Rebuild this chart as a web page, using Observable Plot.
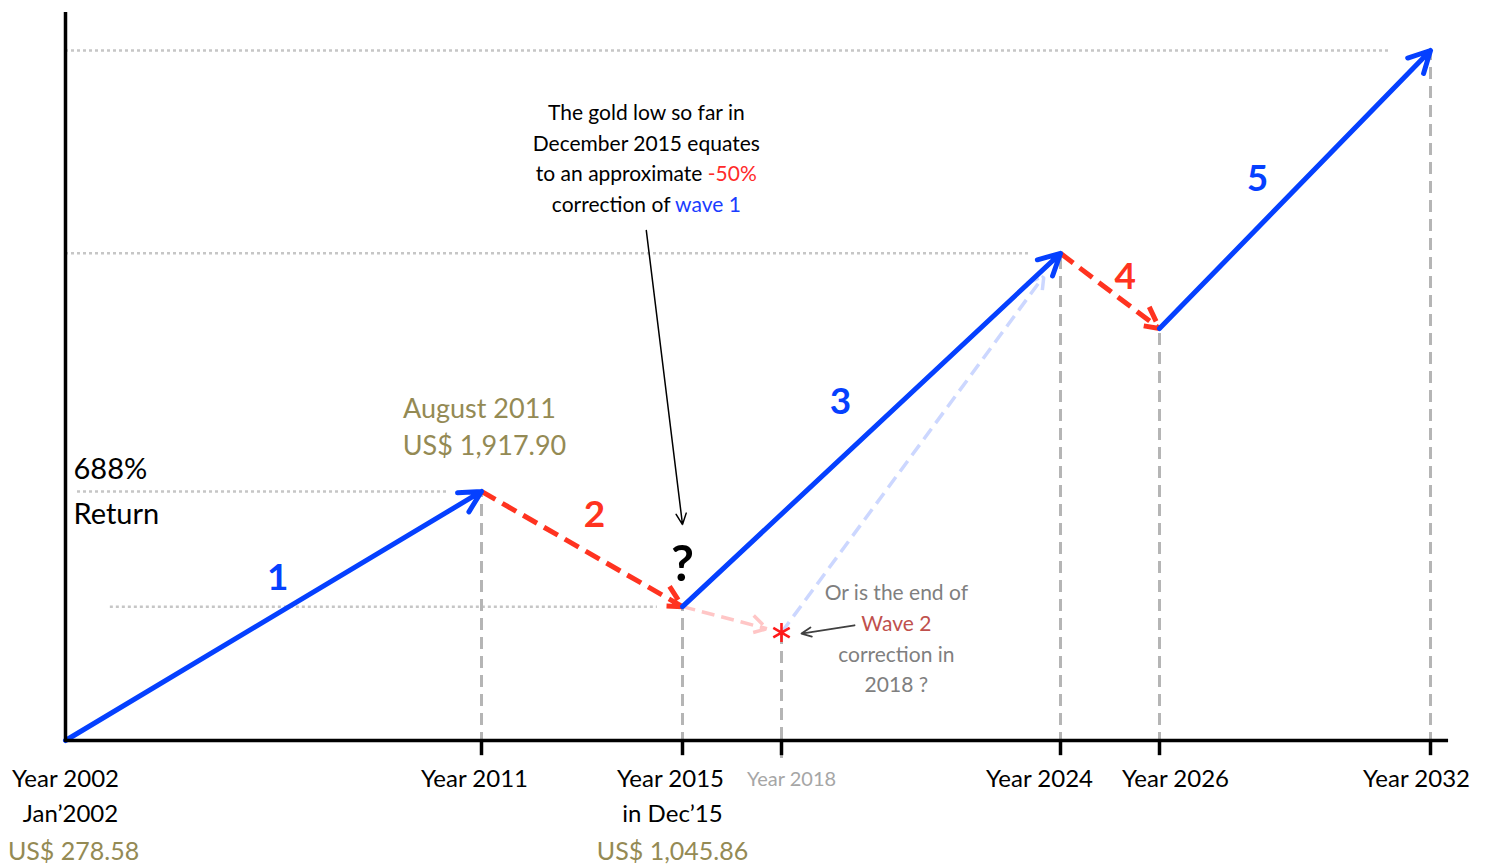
<!DOCTYPE html>
<html>
<head>
<meta charset="utf-8">
<script src="https://cdn.jsdelivr.net/npm/d3@7"></script>
<script src="https://cdn.jsdelivr.net/npm/@observablehq/plot@0.6"></script>
<style>
  html, body { margin: 0; padding: 0; background: #fff; }
  #chart svg text { white-space: pre; }
</style>
</head>
<body>
<div id="chart"></div>
<script>
// ---------------- DATA ----------------
// Wave turning points (schematic level, 0 = Jan 2002 low, 100 = projected 2032 top)
const pointYears  = [2002, 2011, 2015, 2024, 2026, 2032];
const pointLevels = [0, 36.1, 19.4, 70.6, 59.7, 100];
const waveNames   = ["1", "2", "3", "4", "5"];

// Alternative end of wave 2
const altYear  = 2018;
const altLevel = 15.65;

// Axis tick years & labels
const tickYears  = [2002, 2011, 2015, 2018, 2024, 2026, 2032];
const tickLabels = ["Year 2002", "Year 2011", "Year 2015", "Year 2018", "Year 2024", "Year 2026", "Year 2032"];
const subLabels   = [{year: 2002, text: "Jan\u20192002"}, {year: 2015, text: "in Dec\u201915"}];
const priceLabels = [{year: 2002, text: "US$ 278.58"}, {year: 2015, text: "US$ 1,045.86"}];

// Annotation texts
const peakLabel   = ["August 2011", "US$ 1,917.90"];
const returnLabel = ["688%", "Return"];
const noteLines   = ["The gold low so far in", "December 2015 equates", "to an approximate -50%", "correction of wave 1"];
const altLines    = ["Or is the end of", "Wave 2", "correction in", "2018 ?"];

// ---------------- STYLE / LAYOUT ----------------
const BLUE = "#0540ff", RED = "#ff3320", OLIVE = "#948a54", GREY_T = "#7f7f7f";
const FONT = "Lato, 'Open Sans', sans-serif";
const highlights = [{word: "-50%", color: "#ff2a2a"}, {word: "wave 1", color: "#1a3cff"}];
const tickDx = [0, -7, -12, 10, -21, 16, -14];
const subDx = [5, -10];
const priceDx = [8, -10];
const waveLabelPos = [[2006.59, 23.5], [2013.25, 32.6], [2019.27, 49.0], [2025.31, 67.2], [2028.17, 81.4]];
const guides = [
  {x1: 2002.0, x2: 2031.11, lvl: 5},
  {x1: 2002.0, x2: 2023.35, lvl: 3},
  {x1: 2002.26, x2: 2010.29, lvl: 1},
  {x1: 2002.97, x2: 2014.5, lvl: 2}
].map(g => ({x1: g.x1, x2: g.x2, y: pointLevels[g.lvl]}));

// ---------------- BUILD ----------------
const pts = pointYears.map((year, i) => ({year, level: pointLevels[i]}));
const segs = waveNames.map((name, i) => ({
  name, x1: pts[i].year, y1: pts[i].level, x2: pts[i + 1].year, y2: pts[i + 1].level,
  impulse: i % 2 === 0,
  lx: waveLabelPos[i][0], ly: waveLabelPos[i][1]
}));
const alt = {year: altYear, level: altLevel};
const verticals = pts.slice(1);
const ticks = tickYears.filter(y => y !== 2002);
const tickData = tickYears.map((year, i) => ({year, text: tickLabels[i], dx: tickDx[i]}));

const marks = [
  // dotted level guides
  Plot.ruleY(guides, {y: "y", x1: "x1", x2: "x2", stroke: "#c6c6c6", strokeWidth: 2.5, strokeDasharray: "3,3"}),
  // dashed verticals
  Plot.ruleX(verticals, {x: "year", y1: 0, y2: "level", stroke: "#b5b5b5", strokeWidth: 3, strokeDasharray: "12,7", insetTop: 4}),
  Plot.ruleX([alt], {x: "year", y1: 0, y2: "level", stroke: "#b5b5b5", strokeWidth: 3, strokeDasharray: "12,7", insetTop: 18}),
  // alternative paths
  Plot.arrow([alt], {x1: pointYears[2], y1: pointLevels[2], x2: "year", y2: "level", stroke: "#ffc6c6", strokeWidth: 3.5, strokeDasharray: "13,7", strokeLinecap: "butt", headLength: 8, headAngle: 60, insetEnd: 15}),
  Plot.arrow([alt], {x1: "year", y1: "level", x2: pointYears[3], y2: pointLevels[3], stroke: "#ccd7ff", strokeWidth: 3.5, strokeDasharray: "13,7", strokeLinecap: "butt", headLength: 8, headAngle: 60, insetEnd: 28}),
  // waves
  Plot.arrow(segs.filter(d => !d.impulse), {x1: "x1", y1: "y1", x2: "x2", y2: "y2", stroke: RED, strokeWidth: 5, strokeDasharray: "16,8", strokeLinecap: "butt", headLength: 7.2, headAngle: 55}),
  Plot.arrow(segs.filter(d => d.impulse), {x1: "x1", y1: "y1", x2: "x2", y2: "y2", stroke: BLUE, strokeWidth: 5, headLength: 7.2, headAngle: 55}),
  // axes
  Plot.ruleX([2002], {y1: -0.3, y2: 105.5, stroke: "#000", strokeWidth: 3.5}),
  Plot.ruleY([0], {x1: 2002, x2: 2032.4, stroke: "#000", strokeWidth: 3.5}),
  Plot.ruleX(ticks, {x: d => d, y1: 0, y2: -2.2, stroke: "#000", strokeWidth: 3.5}),
  // asterisk
  Plot.dot([alt], {x: "year", y: "level", symbol: "asterisk", r: 9, stroke: "#ff1a1a", strokeWidth: 2.6}),
  // tick labels
  ...tickData.map(d => Plot.text([d], {x: "year", y: 0, text: "text", dy: 39, dx: d.dx,
      fontSize: d.year === 2018 ? 20 : 24, fill: d.year === 2018 ? "#a6a6a6" : "#000"})),
  ...subLabels.map((d, i) => Plot.text([d], {x: "year", y: 0, text: "text", dy: 74, dx: subDx[i], fontSize: 24, fill: "#000"})),
  ...priceLabels.map((d, i) => Plot.text([d], {x: "year", y: 0, text: "text", dy: 111, dx: priceDx[i], fontSize: 25, fill: OLIVE})),
  // wave numbers
  Plot.text(segs, {x: "lx", y: "ly", text: "name", fontSize: 37, fontWeight: "bold", fill: d => d.impulse ? BLUE : RED}),
  // question mark
  Plot.text(["?"], {x: pointYears[2], y: 25.4, text: d => d, fontSize: 50, fontWeight: "bold", fill: "#000"}),
  // peak label
  ...peakLabel.map((t, i) => Plot.text([t], {x: pointYears[1], y: pointLevels[1], text: d => d, dx: i ? 3 : -2, dy: i ? -45 : -82, fontSize: 27, fill: OLIVE})),
  // return label
  ...returnLabel.map((t, i) => Plot.text([t], {x: pointYears[0], y: pointLevels[1], text: d => d, dx: 8, dy: i ? 23 : -22, textAnchor: "start", fontSize: 29, fill: "#000"})),
  // note block
  ...noteLines.map((t, i) => Plot.text([t], {x: 2014.28, y: 90.9, text: d => d, dy: i * 30.7, fontSize: 21, fill: "#000"})),
  Plot.arrow([{x1: 2014.28, y1: 73.9, x2: pointYears[2], y2: 31.3}], {x1: "x1", y1: "y1", x2: "x2", y2: "y2", stroke: "#000", strokeWidth: 1.5, headLength: 12, headAngle: 50}),
  // alternative block
  ...altLines.map((t, i) => Plot.text([t], {x: 2020.47, y: 21.3, text: d => d, dy: i * 30.7, fontSize: 21, fill: i === 1 ? "#c0504d" : GREY_T})),
  Plot.arrow([{x1: 2019.57, y1: 16.7, x2: 2018.43, y2: 15.5}], {x1: "x1", y1: "y1", x2: "x2", y2: "y2", stroke: "#404040", strokeWidth: 1.8, headLength: 9, headAngle: 50})
];

const plot = Plot.plot({
  width: 1487,
  height: 866,
  x: {type: "linear", domain: tickYears, range: [65, 481, 682, 781, 1060, 1159, 1430], axis: null},
  y: {type: "linear", domain: [0, 100], range: [740, 50], axis: null},
  style: {fontFamily: FONT, background: "#fff", overflow: "visible"},
  marks
});

// colour the highlighted words inside note lines (kept as real text)
plot.querySelectorAll("text").forEach(t => {
  const s = t.textContent;
  for (const h of highlights) {
    if (s.endsWith(h.word) && s !== h.word) {
      t.textContent = "";
      const a = document.createElementNS("http://www.w3.org/2000/svg", "tspan");
      a.textContent = s.slice(0, s.length - h.word.length);
      const b = document.createElementNS("http://www.w3.org/2000/svg", "tspan");
      b.textContent = h.word;
      b.setAttribute("fill", h.color);
      t.append(a, b);
      break;
    }
  }
});

document.getElementById("chart").append(plot);
</script>
</body>
</html>
